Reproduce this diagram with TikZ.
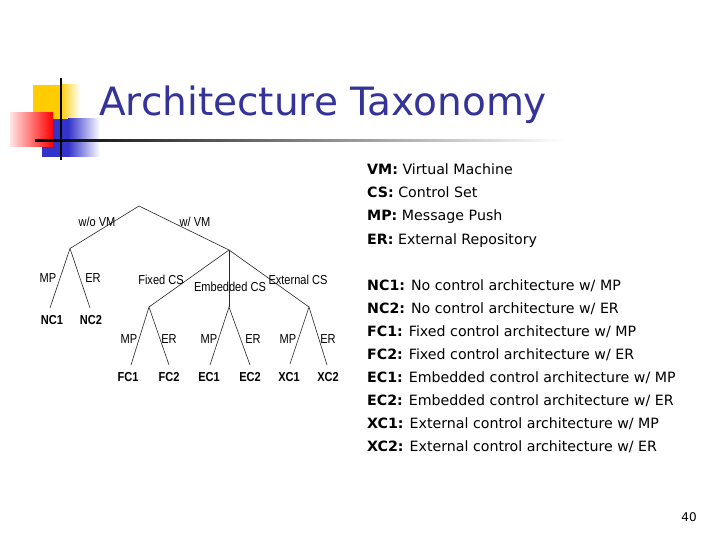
\documentclass[tikz,border=0pt]{standalone}
\usepackage{fontspec}
\setmainfont{DejaVu Sans}
\newfontfamily\treefont[FakeStretch=0.85]{Liberation Sans}
\definecolor{titleblue}{RGB}{51,51,153}
\definecolor{decoyellow}{RGB}{255,204,0}
\definecolor{decoblue}{RGB}{51,51,204}
\definecolor{decored}{RGB}{255,0,0}
\begin{document}
\begin{tikzpicture}[x=1pt,y=-1pt,
  treelbl/.style={font=\treefont\fontsize{13}{15}\selectfont, inner sep=0pt, anchor=base},
  leaf/.style={treelbl, font=\treefont\bfseries\fontsize{13}{15}\selectfont},
  edge/.style={line width=0.6pt, black!85},
  deftext/.style={font=\fontsize{14.2}{16}\selectfont, anchor=base west, inner sep=0pt}]
\useasboundingbox[fill=white] (0,0) rectangle (720,540);

% --- title decoration
\fill[decoyellow] (33,85) rectangle (60,120);
\shade[left color=decoyellow, right color=white] (60,85) rectangle (80,120);
\fill[decoblue] (42,119) rectangle (68,157);
\shade[left color=decoblue, right color=white] (68,119) rectangle (100,157);
\shade[left color=decored!10, right color=decored] (10,113) rectangle (53,147);
\shade[left color=black, right color=white] (35,140) rectangle (565,142);
\draw[line width=2pt] (61,78) -- (61,160);

% --- title
\node[anchor=base west, inner sep=0pt, text=titleblue,
      font=\fontsize{39}{44}\selectfont] (title) at (99,116) {Architecture Taxonomy};

% --- tree nodes
\coordinate (root) at (139,206);
\coordinate (wo) at (70,248.5);
\coordinate (w) at (229,250);
\coordinate (fc) at (149,307);
\coordinate (ec) at (229,307);
\coordinate (xc) at (309,307);
\coordinate (nc1e) at (50,308);
\coordinate (nc2e) at (90,308);
\coordinate (fc1e) at (131,365);
\coordinate (fc2e) at (169,365);
\coordinate (ec1e) at (210,365);
\coordinate (ec2e) at (250,365);
\coordinate (xc1e) at (290,364);
\coordinate (xc2e) at (327,365);

\draw[edge] (wo) -- (root) -- (w);
\draw[edge] (nc1e) -- (wo) -- (nc2e);
\draw[edge] (fc) -- (w) -- (xc);
\draw[edge] (w) -- (ec);
\draw[edge] (fc1e) -- (fc) -- (fc2e);
\draw[edge] (ec1e) -- (ec) -- (ec2e);
\draw[edge] (xc1e) -- (xc) -- (xc2e);

% --- edge labels
\node[treelbl] (lwo) at (97,226) {w/o VM};
\node[treelbl] (lw) at (195,226) {w/ VM};
\node[treelbl] (lnmp) at (48,282) {MP};
\node[treelbl] (lner) at (93,282) {ER};
\node[treelbl] (lfc) at (161,284) {Fixed CS};
\node[treelbl] (lec) at (230,291) {Embedded CS};
\node[treelbl] (lxc) at (298,284) {External CS};
\node[treelbl] (lfmp) at (129,343) {MP};
\node[treelbl] (lfer) at (169,343) {ER};
\node[treelbl] (lemp) at (209,343) {MP};
\node[treelbl] (leer) at (253,343) {ER};
\node[treelbl] (lxmp) at (288,343) {MP};
\node[treelbl] (lxer) at (328,343) {ER};

% --- leaves
\node[leaf] (nc1) at (52,324) {NC1};
\node[leaf] (nc2) at (91,324) {NC2};
\node[leaf] (fc1) at (128,381) {FC1};
\node[leaf] (fc2) at (169,381) {FC2};
\node[leaf] (ec1) at (209,381) {EC1};
\node[leaf] (ec2) at (250,381) {EC2};
\node[leaf] (xc1) at (289,381) {XC1};
\node[leaf] (xc2) at (328,381) {XC2};

% --- definitions
\node[deftext] (d1) at (367,175) {\textbf{VM:} Virtual Machine};
\node[deftext] (d2) at (367,198) {\textbf{CS:} Control Set};
\node[deftext] (d3) at (367,221) {\textbf{MP:} Message Push};
\node[deftext] (d4) at (367,244) {\textbf{ER:} External Repository};

\node[deftext] (e1) at (367,290) {\textbf{NC1:} No control architecture w/ MP};
\node[deftext] (e2) at (367,313) {\textbf{NC2:} No control architecture w/ ER};
\node[deftext] (e3) at (367,336) {\textbf{FC1:} Fixed control architecture w/ MP};
\node[deftext] (e4) at (367,359) {\textbf{FC2:} Fixed control architecture w/ ER};
\node[deftext] (e5) at (367,382) {\textbf{EC1:} Embedded control architecture w/ MP};
\node[deftext] (e6) at (367,405) {\textbf{EC2:} Embedded control architecture w/ ER};
\node[deftext] (e7) at (367,428) {\textbf{XC1:} External control architecture w/ MP};
\node[deftext] (e8) at (367,451) {\textbf{XC2:} External control architecture w/ ER};

% --- page number
\node[anchor=base, inner sep=0pt, font=\fontsize{12}{14}\selectfont] (pg) at (689,521) {40};
\end{tikzpicture}
\end{document}
